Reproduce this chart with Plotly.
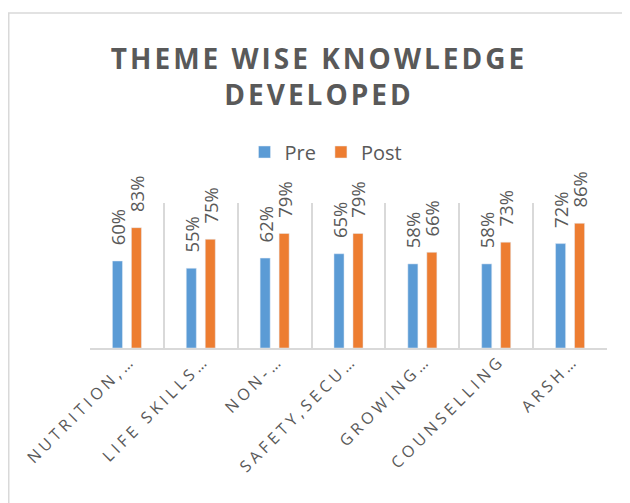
import plotly.graph_objects as go

categories = ["NUTRITION,…", "LIFE SKILLS…", "NON-…", "SAFETY,SECU…", "GROWING…", "COUNSELLING", "ARSH…"]
pre = [0.60, 0.55, 0.62, 0.65, 0.58, 0.58, 0.72]
post = [0.83, 0.75, 0.79, 0.79, 0.66, 0.73, 0.86]

GRAY = "#595959"
LINE = "#d9d9d9"
# the page body has an 8px margin, so the figure is sized to fill the rest of the window
W, H = 622, 495
L, R, T, B = 82, 23, 195, 155
pw = W - L - R
ph = H - T - B

def spaced(s, px):
    return '<span style="letter-spacing:%spx">%s</span>' % (px, s)

fig = go.Figure()
lbl = dict(textposition="outside", textangle=-90, cliponaxis=False, constraintext="none",
           textfont=dict(size=18.5, color=GRAY, family="Open Sans"))
fig.add_trace(go.Bar(name="Pre", x=categories, y=pre, marker_color="#5B9BD5",
                     texttemplate="\u00a0\u00a0\u2009%{y:.0%}", **lbl))
fig.add_trace(go.Bar(name="Post", x=categories, y=post, marker_color="#ED7D31",
                     texttemplate="\u00a0\u00a0\u2009%{y:.0%}", **lbl))

fig.update_layout(
    width=W, height=H,
    margin=dict(l=L, r=R, t=T, b=B, autoexpand=False),
    paper_bgcolor="white", plot_bgcolor="white",
    barmode="group", bargap=0.486, bargroupgap=0.47,
    title=dict(text=spaced("THEME WISE KNOWLEDGE", 3) + "<br>" + spaced("DEVELOPED", 3),
               x=311 / W, xanchor="center", y=1 - 61 / H, yanchor="middle",
               font=dict(family="Open Sans", size=28, color=GRAY, weight="bold")),
    legend=dict(orientation="h", x=(318 - L) / pw, xanchor="center",
                y=(H - B - 144) / ph, yanchor="middle",
                font=dict(family="Open Sans", size=20, color=GRAY),
                itemwidth=30, traceorder="normal"),
    font=dict(family="Open Sans", color=GRAY),
    xaxis=dict(type="category", tickson="boundaries", showgrid=True, gridcolor=LINE, gridwidth=1.5,
               showline=True, linecolor=LINE, linewidth=1.5, ticks="", automargin=False,
               tickangle=-45, tickvals=categories, ticktext=[spaced(c, 4) for c in categories],
               ticklabelstandoff=-5, ticklabelshift=4,
               tickfont=dict(size=16, color=GRAY, family="Open Sans")),
    yaxis=dict(visible=False, range=[0, 1.0], showgrid=False, zeroline=False, automargin=False),
    shapes=[dict(type="rect", xref="paper", yref="paper",
                 x0=(0.75 - L) / pw, x1=(660 - L) / pw,
                 y0=(H - B - 520) / ph, y1=(H - B - 5) / ph,
                 line=dict(color=LINE, width=1.5), fillcolor="rgba(0,0,0,0)", layer="below")],
)

fig.write_html("out.html")
